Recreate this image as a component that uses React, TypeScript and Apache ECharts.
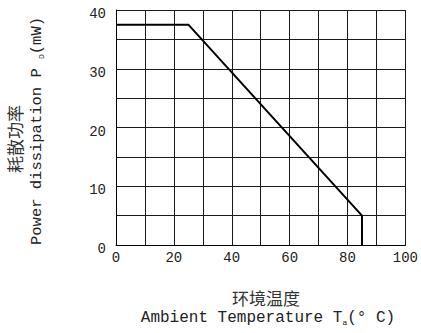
import React, { useEffect, useRef } from "react";
import * as echarts from "echarts";

// Derating curve: ambient temperature (°C) vs. power dissipation (mW)
const temperatures = [0, 25, 85, 85];
const powerMw = [37.5, 37.5, 5, 0];

const xTicks = [0, 20, 40, 60, 80, 100];
const yTicks = [0, 10, 20, 30, 40];

const yTitleCn = "耗散功率";
const yTitleEn = "Power dissipation P {sub|D}(mW)";
const xTitleCn = "环境温度";
const xTitleEn = "Ambient Temperature T{sub|a}(° C)";

const MONO = "'Liberation Mono', 'DejaVu Sans Mono', monospace";
const CJK = "'Noto Sans CJK SC', sans-serif";

export default function App() {
  const ref = useRef<HTMLDivElement>(null);

  useEffect(() => {
    if (!ref.current) return;
    const chart = echarts.init(ref.current, null, { renderer: "svg" });
    const gridColor = "#1a1a1a";

    chart.setOption({
      animation: false,
      backgroundColor: "#ffffff",
      grid: { left: 116, right: 13, top: 10, bottom: 88, containLabel: false },
      xAxis: {
        type: "value",
        min: 0,
        max: 100,
        interval: 10,
        axisLine: { show: true, lineStyle: { color: "#000", width: 1 } },
        axisTick: { show: false },
        splitLine: { show: true, lineStyle: { color: gridColor, width: 1 } },
        axisLabel: {
          margin: 6,
          fontFamily: MONO,
          fontSize: 14,
          color: "#222",
          showMaxLabel: true,
          showMinLabel: true,
          formatter: (v: number) => (xTicks.includes(v) ? String(v) : ""),
        },
      },
      yAxis: {
        type: "value",
        min: 0,
        max: 40,
        interval: 5,
        axisLine: { show: true, lineStyle: { color: "#000", width: 1 } },
        axisTick: { show: false },
        splitLine: { show: true, lineStyle: { color: gridColor, width: 1 } },
        axisLabel: {
          margin: 10,
          fontFamily: MONO,
          fontSize: 14,
          color: "#222",
          verticalAlign: "top",
          lineHeight: 8,
          showMaxLabel: true,
          showMinLabel: true,
          formatter: (v: number) => (yTicks.includes(v) ? String(v) : ""),
        },
      },
      series: [
        {
          type: "line",
          data: temperatures.map((t, i) => [t, powerMw[i]]),
          symbol: "none",
          lineStyle: { color: "#000", width: 2 },
          z: 5,
        },
      ],
      graphic: [
        {
          type: "text",
          x: 14,
          y: 139,
          rotation: Math.PI / 2,
          style: {
            text: yTitleCn,
            font: `17px ${CJK}`,
            fill: "#333",
            align: "center",
            verticalAlign: "middle",
          },
        },
        {
          type: "text",
          x: 37,
          y: 131,
          rotation: Math.PI / 2,
          style: {
            text: yTitleEn,
            fontFamily: MONO,
            fontSize: 15.5,
            fill: "#222",
            align: "center",
            verticalAlign: "middle",
            rich: {
              sub: { fontFamily: MONO, fontSize: 8, fill: "#222", verticalAlign: "bottom" },
            },
          },
        },
        {
          type: "text",
          x: 266,
          y: 297,
          style: {
            text: xTitleCn,
            font: `17px ${CJK}`,
            fill: "#333",
            align: "center",
            verticalAlign: "middle",
          },
        },
        {
          type: "text",
          x: 268,
          y: 318,
          style: {
            text: xTitleEn,
            fontFamily: MONO,
            fontSize: 16,
            fill: "#222",
            align: "center",
            verticalAlign: "middle",
            rich: {
              sub: { fontFamily: MONO, fontSize: 8, fill: "#222", verticalAlign: "bottom" },
            },
          },
        },
      ],
    });

    return () => chart.dispose();
  }, []);

  return (
    <div
      ref={ref}
      style={{ position: "absolute", left: 0, top: 0, width: 421, height: 333 }}
    />
  );
}
